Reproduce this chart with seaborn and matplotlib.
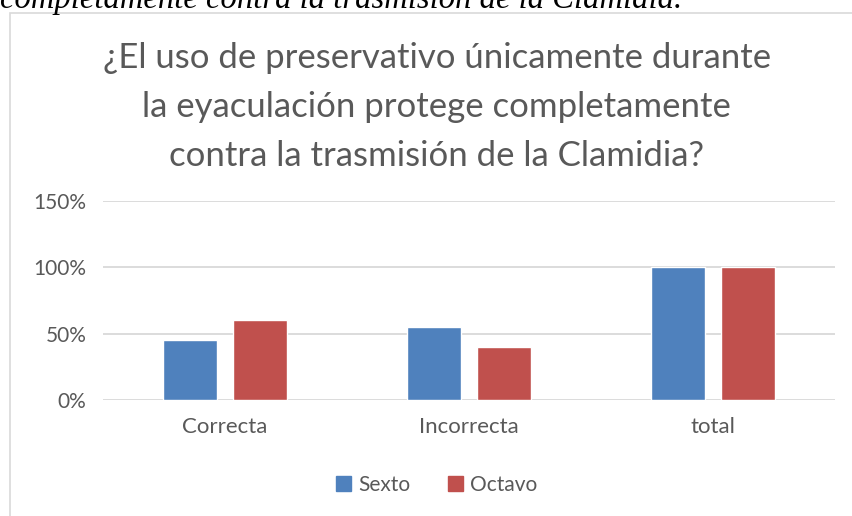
import pandas as pd
import matplotlib.pyplot as plt
import matplotlib.patches as mpatches
import seaborn as sns

# Data
categories = ['Correcta', 'Incorrecta', 'total']
sexto = [0.45, 0.55, 1.00]
octavo = [0.60, 0.40, 1.00]
series_names = ['Sexto', 'Octavo']
yticks = [0, 0.5, 1.0, 1.5]
ytick_labels = ['0%', '50%', '100%', '150%']

df = pd.DataFrame({
    'categoria': categories * 2,
    'valor': sexto + octavo,
    'grupo': [series_names[0]] * 3 + [series_names[1]] * 3,
})

sns.set_style("white")
plt.rcParams['font.family'] = ['Lato', 'DejaVu Sans']

text_color = '#595959'
colors = ['#4F81BD', '#C0504D']

fig = plt.figure(figsize=(8.53, 5.16), dpi=100)

# Frame of the chart (cropped screenshot, extends past right/bottom)
frame = mpatches.Rectangle((10 / 853, -0.1), 1.0, 1 - 13 / 516 + 0.1,
                           transform=fig.transFigure, fill=False,
                           edgecolor='#D9D9D9', linewidth=1.2)
fig.patches.append(frame)

# Cut-off document caption above the chart
fig.text(0.0, 1 - 8 / 516, 'completamente contra la trasmisión de la Clamidia.',
         fontsize=23.5, style='italic', family=['Liberation Serif'],
         ha='left', va='baseline', color='black')

ax = fig.add_axes([103 / 853, 1 - 400 / 516, (835 - 103) / 853, (400 - 201) / 516])
sns.barplot(data=df, x='categoria', y='valor', hue='grupo', palette=colors,
            width=0.574, gap=0.23, saturation=1, ax=ax, legend=False)

ax.set_ylim(0, 1.5)
ax.set_yticks(yticks)
ax.set_yticklabels(ytick_labels)
ax.yaxis.grid(True, color='#D9D9D9', linewidth=1.3)
ax.set_axisbelow(True)
for s in ax.spines.values():
    s.set_visible(False)
ax.tick_params(axis='x', length=0, labelsize=16, colors=text_color, pad=12)
ax.tick_params(axis='y', length=0, labelsize=15, colors=text_color, pad=12)
ax.set_xlabel('')
ax.set_ylabel('')

fig.text(0.512, 1 - 107 / 516,
         '¿El uso de preservativo únicamente durante\nla eyaculación protege completamente\ncontra la trasmisión de la Clamidia?',
         ha='center', va='center', fontsize=25, color=text_color, linespacing=1.65)

handles = [mpatches.Patch(color=c, label=n) for c, n in zip(colors, series_names)]
fig.legend(handles=handles, loc='center', bbox_to_anchor=(0.512, 1 - 485 / 516),
           ncol=2, frameon=False, fontsize=15, handlelength=0.7, handleheight=0.7,
           handletextpad=0.35, columnspacing=1.8, labelcolor=text_color)

fig.savefig('out.png', dpi=100)
